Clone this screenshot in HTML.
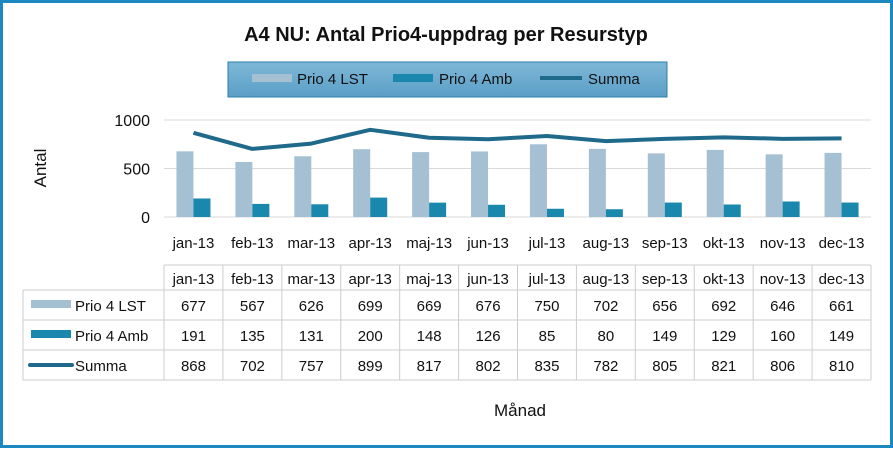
<!DOCTYPE html>
<html><head><meta charset="utf-8"><style>
body{margin:0;background:#fff;font-family:"Liberation Sans",sans-serif}
svg text{font-family:"Liberation Sans",sans-serif}
</style></head><body>
<svg width="893" height="448" xmlns="http://www.w3.org/2000/svg">
<defs><linearGradient id="lg" x1="0" y1="0" x2="0" y2="1"><stop offset="0" stop-color="#7fb8d8"/><stop offset="1" stop-color="#5a9ec6"/></linearGradient></defs>
<rect x="1.5" y="1.5" width="890" height="445" fill="#fff" stroke="#1b88bf" stroke-width="3"/>
<text x="446" y="41" text-anchor="middle" font-size="20" font-weight="bold" fill="#111">A4 NU: Antal Prio4-uppdrag  per Resurstyp</text>
<g>
<rect x="228" y="62" width="439" height="35" fill="url(#lg)" stroke="#2a7fa8"/>
<rect x="252" y="74" width="40" height="8" fill="#a5c0d3"/>
<text x="297" y="84" font-size="15" fill="#111">Prio 4 LST</text>
<rect x="393" y="74" width="40" height="8" fill="#1a87ad"/>
<text x="439" y="84" font-size="15" fill="#111">Prio 4 Amb</text>
<line x1="540" y1="78" x2="582" y2="78" stroke="#1f6a8a" stroke-width="4"/>
<text x="588" y="84" font-size="15" fill="#111">Summa</text>
</g>
<text transform="translate(46,168) rotate(-90)" text-anchor="middle" font-size="17" fill="#111">Antal</text>
<text x="520" y="416" text-anchor="middle" font-size="17" fill="#111">Månad</text>
<g id="grid"></g><g id="bars"></g><g id="line"></g><g id="tbl"></g>
</svg>
<script>
const months=["jan-13","feb-13","mar-13","apr-13","maj-13","jun-13","jul-13","aug-13","sep-13","okt-13","nov-13","dec-13"];
const lst=[677,567,626,699,669,676,750,702,656,692,646,661];
const amb=[191,135,131,200,148,126,85,80,149,129,160,149];
const summa=[868,702,757,899,817,802,835,782,805,821,806,810];
const yTicks=[0,500,1000];
const NS="http://www.w3.org/2000/svg";
const x0=164,x1=871,cw=(x1-x0)/months.length;
const y=v=>217-v*0.097;
const cx=i=>x0+cw*(i+0.5);
function mk(t,a,p){const e=document.createElementNS(NS,t);for(const k in a)e.setAttribute(k,a[k]);p.appendChild(e);return e;}
const g=document.getElementById('grid'),b=document.getElementById('bars'),l=document.getElementById('line'),tb=document.getElementById('tbl');
yTicks.forEach(t=>{const ln=mk('line',{x1:x0,x2:x1,y1:y(t),y2:y(t),stroke:'#d9d9d9'},g);


const tx=mk('text',{x:150,y:y(t)+6,'text-anchor':'end','font-size':16,fill:'#111'},g);tx.textContent=t;

});
months.forEach((m,i)=>{
const r1=mk('rect',{x:cx(i)-17,y:y(lst[i]),width:17,height:217-y(lst[i]),fill:'#a5c0d3'},b);


const r2=mk('rect',{x:cx(i),y:y(amb[i]),width:17,height:217-y(amb[i]),fill:'#1a87ad'},b);


const t=mk('text',{x:cx(i),y:248,'text-anchor':'middle','font-size':15,fill:'#111'},b);t.textContent=m;


});
const pl=mk('polyline',{points:summa.map((v,i)=>cx(i)+','+y(v)).join(' '),fill:'none',stroke:'#1f6a8a','stroke-width':4,'stroke-linejoin':'round'},l);


// table
const rows=[265,290,320,350,380];
mk('line',{x1:x0,x2:x1,y1:265,y2:265,stroke:'#ccc'},tb);
for(let r=1;r<5;r++)mk('line',{x1:23,x2:x1,y1:rows[r],y2:rows[r],stroke:'#ccc'},tb);
mk('line',{x1:23,x2:23,y1:290,y2:380,stroke:'#ccc'},tb);
for(let i=0;i<=months.length;i++)mk('line',{x1:x0+cw*i,x2:x0+cw*i,y1:265,y2:380,stroke:'#ccc'},tb);
const series=[lst,amb,summa],names=['Prio 4 LST','Prio 4 Amb','Summa'];
months.forEach((m,i)=>{const t=mk('text',{x:cx(i),y:284,'text-anchor':'middle','font-size':15,fill:'#111'},tb);t.textContent=m;

});
series.forEach((s,r)=>{
const yy=rows[r+1]+21;
if(r<2)mk('rect',{x:31,y:yy-11,width:40,height:8,fill:r?'#1a87ad':'#a5c0d3'},tb);
else mk('line',{x1:30,x2:72,y1:yy-6,y2:yy-6,stroke:'#1f6a8a','stroke-width':4,'stroke-linecap':'round'},tb);
const n=mk('text',{x:75,y:yy,'font-size':15,fill:'#111'},tb);n.textContent=names[r];


s.forEach((v,i)=>{const t=mk('text',{x:cx(i),y:yy,'text-anchor':'middle','font-size':15,fill:'#111'},tb);t.textContent=v;

});
});
</script>
</body></html>
